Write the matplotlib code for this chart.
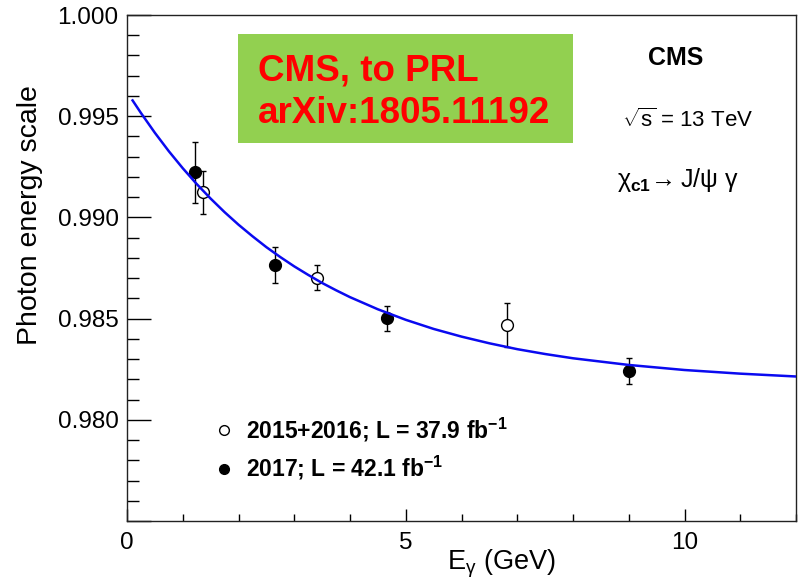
import matplotlib.pyplot as plt
from matplotlib.lines import Line2D
from matplotlib.patches import Rectangle
from matplotlib.ticker import MultipleLocator, FixedLocator, FixedFormatter

plt.rcParams['font.family'] = ['Liberation Sans', 'DejaVu Sans']
plt.rcParams['mathtext.fontset'] = 'custom'
plt.rcParams['mathtext.rm'] = 'Liberation Sans'
plt.rcParams['mathtext.it'] = 'Liberation Sans'
plt.rcParams['mathtext.bf'] = 'Liberation Sans:bold'

# 2015+2016 (open circles)
e_1516 = [1.36, 3.41, 6.82]
scale_1516 = [0.99124, 0.98703, 0.98469]
err_1516 = [0.00107, 0.00064, 0.00110]

# 2017 (filled circles)
e_17 = [1.22, 2.66, 4.67, 9.00]
scale_17 = [0.99222, 0.98767, 0.98502, 0.98242]
err_17 = [0.00149, 0.00089, 0.00062, 0.00065]

# fit curve
fit_e = [0.1, 0.25, 0.5, 0.75, 1.0, 1.25, 1.5, 1.75, 2.0, 2.25, 2.5, 2.75, 3.0, 3.25,
         3.5, 3.75, 4.0, 4.5, 5.0, 5.5, 6.0, 6.5, 7.0, 7.5, 8.0, 9.0, 10.0, 11.0, 12.0]
fit_scale = [0.99578, 0.99516, 0.99418, 0.99327, 0.99243, 0.99165, 0.99093, 0.99026,
             0.98964, 0.98907, 0.98853, 0.98804, 0.98758, 0.98716, 0.98676, 0.98640,
             0.98606, 0.98546, 0.98494, 0.98449, 0.98411, 0.98378, 0.98349, 0.98325,
             0.98304, 0.98271, 0.98246, 0.98228, 0.98214]

y_ticks = [0.975, 0.980, 0.985, 0.990, 0.995, 1.000]
y_labels = ['', '0.980', '0.985', '0.990', '0.995', '1.000']

W, H = 798, 584
fig = plt.figure(figsize=(W / 100, H / 100), dpi=100)
ax = fig.add_axes([127 / W, 63 / H, 669 / W, 506 / H])


def px(x, y):
    return x / W, 1 - y / H


ax.errorbar(e_17, scale_17, yerr=err_17, fmt='o', color='black', ms=8.5,
            elinewidth=1, capsize=2.5, capthick=1, zorder=3)
ax.errorbar(e_1516, scale_1516, yerr=err_1516, fmt='o', color='black', mfc='white',
            ms=8.5, mew=1, elinewidth=1, capsize=2.5, capthick=1, zorder=3)
ax.plot(fit_e, fit_scale, color='#0a0af0', lw=1.8, zorder=4)

ax.set_xlim(0, 12)
ax.set_ylim(0.975, 1.0)
ax.xaxis.set_major_locator(FixedLocator([0, 5, 10]))
ax.xaxis.set_minor_locator(MultipleLocator(1))
ax.yaxis.set_major_locator(FixedLocator(y_ticks))
ax.yaxis.set_major_formatter(FixedFormatter(y_labels))
ax.yaxis.set_minor_locator(MultipleLocator(0.001))

ax.tick_params(axis='both', which='both', direction='in', labelsize=17.5, colors='black')
ax.tick_params(axis='y', which='major', length=17, width=1, pad=6)
ax.tick_params(axis='y', which='minor', length=8.5, width=1)
ax.tick_params(axis='x', which='major', length=8.5, width=1, pad=8)
ax.tick_params(axis='x', which='minor', length=5, width=1)
for s in ax.spines.values():
    s.set_linewidth(1)
    s.set_color('#222222')

# legend
handles = [
    Line2D([], [], ls='none', marker='o', mfc='white', mec='black', ms=7, mew=1),
    Line2D([], [], ls='none', marker='o', mfc='black', mec='black', ms=7),
]
labels = [r'2015+2016; L = 37.9 fb$^{\mathbf{-1}}$', r'2017; L = 42.1 fb$^{\mathbf{-1}}$']
ax.legend(handles, labels, loc='upper left', bbox_to_anchor=px(205, 404),
          bbox_transform=fig.transFigure, frameon=False, handlelength=0.7,
          handletextpad=0.6, labelspacing=0.45, borderpad=0,
          prop={'weight': 'bold', 'size': 16.5})

# green note box
fig.patches.append(Rectangle(px(238, 143), 335 / W, 109 / H, transform=fig.transFigure,
                             facecolor='#92d050', edgecolor='none', zorder=5))
fig.text(*px(258, 80), 'CMS, to PRL', color='#ff0000', fontsize=26.5, fontweight='bold',
         ha='left', va='baseline', zorder=6)
fig.text(*px(258, 123), 'arXiv:1805.11192', color='#ff0000', fontsize=26.5, fontweight='bold',
         ha='left', va='baseline', zorder=6)

fig.text(*px(676, 65), 'CMS', fontsize=18, fontweight='bold', ha='center', va='baseline')
fig.text(*px(622, 127), r'$\sqrt{s}$ = 13 TeV', fontsize=16, ha='left', va='baseline')
fig.text(*px(617, 187), r'$\chi_{\mathbf{c1}}\!\rightarrow$J/$\psi$ $\gamma$', fontsize=18,
         ha='left', va='baseline')

fig.text(*px(30, 215), 'Photon energy scale', fontsize=20.5, rotation=90,
         ha='center', va='center')
fig.text(*px(447, 570), r'E$_{\gamma}$ (GeV)', fontsize=19.5, ha='left', va='baseline')

fig.savefig('out.png', dpi=100)
